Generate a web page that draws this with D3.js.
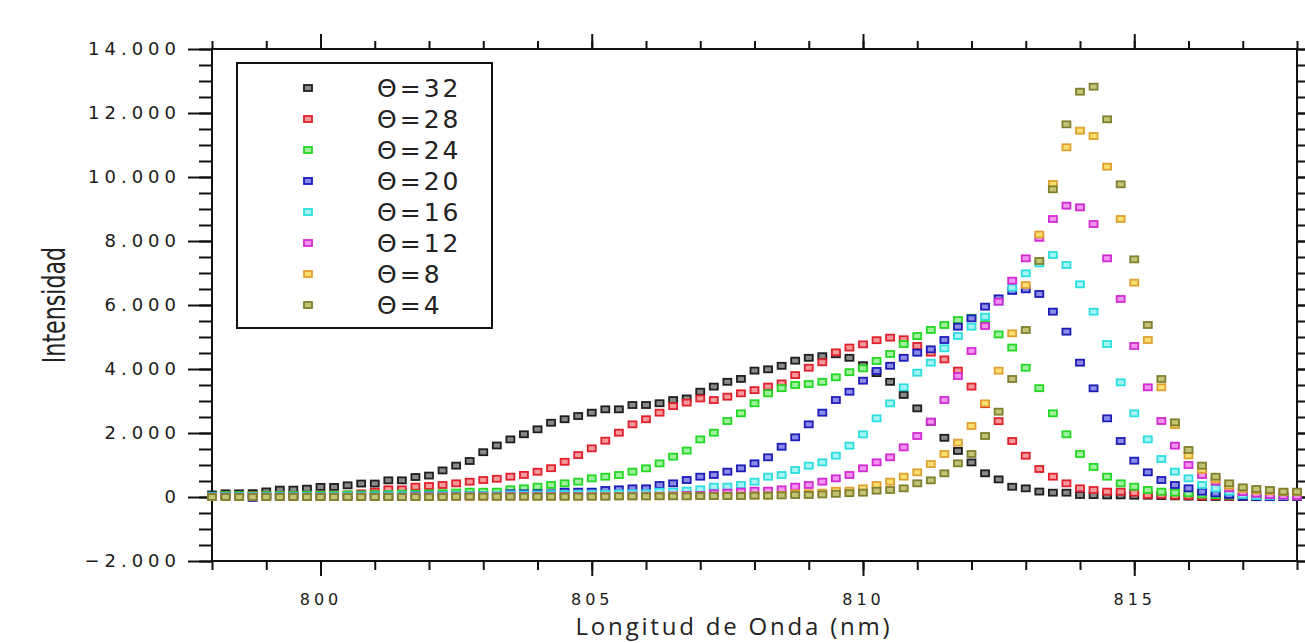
<!DOCTYPE html>
<html>
<head>
<meta charset="utf-8">
<style>
  body { margin: 0; background: #fff; }
  .tick text { font-family: "DejaVu Sans", sans-serif; fill: #1a1a1a; }
  .legend text { font-family: "DejaVu Sans", sans-serif; fill: #222; }
</style>
</head>
<body>
<svg width="1305" height="643"></svg>
<script src="https://cdnjs.cloudflare.com/ajax/libs/d3/7.8.5/d3.min.js"></script>
<script>
// wavelength grid (nm)
var wavelength = [
  798, 798.25, 798.5, 798.75, 799, 799.25, 799.5, 799.75,
  800, 800.25, 800.5, 800.75, 801, 801.25, 801.5, 801.75,
  802, 802.25, 802.5, 802.75, 803, 803.25, 803.5, 803.75,
  804, 804.25, 804.5, 804.75, 805, 805.25, 805.5, 805.75,
  806, 806.25, 806.5, 806.75, 807, 807.25, 807.5, 807.75,
  808, 808.25, 808.5, 808.75, 809, 809.25, 809.5, 809.75,
  810, 810.25, 810.5, 810.75, 811, 811.25, 811.5, 811.75,
  812, 812.25, 812.5, 812.75, 813, 813.25, 813.5, 813.75,
  814, 814.25, 814.5, 814.75, 815, 815.25, 815.5, 815.75,
  816, 816.25, 816.5, 816.75, 817, 817.25, 817.5, 817.75,
  818
];

var theta32 = [
  80, 115, 115, 120, 175, 230, 230, 260,
  315, 315, 365, 420, 420, 520, 520, 625,
  670, 830, 980, 1125, 1400, 1610, 1800, 1960,
  2115, 2320, 2430, 2530, 2635, 2740, 2740, 2875,
  2875, 2930, 3030, 3080, 3290, 3450, 3600, 3690,
  3950, 3990, 4100, 4260, 4350, 4400, 4460, 4350,
  4120, 3870, 3600, 3190, 2770, 2350, 1850, 1440,
  1080, 740, 550, 320, 270, 170, 135, 135,
  63, 60, 50, 50, 40, 40, 30, 20,
  10, 0, 0, 0, 0, 0, 0, 0,
  0
];
var theta28 = [
  30, 60, 60, 60, 60, 60, 60, 60,
  80, 80, 80, 115, 167, 240, 240, 323,
  344, 375, 427, 479, 531, 570, 635, 690,
  790, 900, 1100, 1310, 1520, 1760, 2010, 2270,
  2430, 2635, 2840, 2950, 3080, 3030, 3135, 3240,
  3340, 3450, 3550, 3810, 4040, 4210, 4520, 4670,
  4770, 4900, 4980, 4930, 4720, 4510, 4300, 3950,
  3450, 2900, 2370, 1750, 1290, 875, 635, 427,
  271, 219, 167, 167, 135, 63, 63, 40,
  30, 20, 20, 10, 10, 0, 0, 0,
  0
];
var theta24 = [
  40, 60, 60, 50, 60, 60, 60, 70,
  70, 70, 80, 80, 90, 90, 100, 100,
  110, 120, 140, 167, 167, 167, 240, 271,
  323, 375, 427, 479, 583, 635, 688, 792,
  896, 1050, 1260, 1450, 1800, 2010, 2375, 2615,
  2930, 3240, 3400, 3500, 3530, 3600, 3740, 3900,
  4020, 4250, 4470, 4780, 5030, 5220, 5375, 5530,
  5600, 5400, 5080, 4670, 4040, 3400, 2615, 1960,
  1344, 940, 635, 427, 323, 219, 167, 135,
  115, 80, 60, 40, 30, 30, 20, 20,
  20
];
var theta20 = [
  30, 30, 30, -30, 30, 30, 30, 30,
  30, 30, 30, 40, 40, 40, 40, 50,
  50, 60, 60, 60, 63, 63, 115, 115,
  115, 115, 167, 167, 167, 219, 240, 271,
  271, 375, 427, 531, 635, 688, 792, 896,
  1052, 1240, 1570, 1865, 2270, 2635, 3030, 3290,
  3635, 3940, 4100, 4350, 4510, 4615, 4906, 5323,
  5583, 5948, 6208, 6440, 6490, 6344, 5792, 5167,
  4198, 3396, 2458, 1750, 1135, 771, 531, 375,
  271, 167, 115, 63, 10, 0, 0, 0,
  10
];
var theta16 = [
  30, 30, 30, 30, 30, 30, 30, 30,
  30, 40, 40, 40, 40, 50, 50, 50,
  50, 60, 60, 60, 60, 63, 80, 80,
  80, 90, 90, 100, 100, 100, 110, 115,
  115, 167, 167, 198, 240, 323, 323, 375,
  479, 635, 688, 844, 979, 1083, 1292, 1604,
  1958, 2458, 2927, 3427, 3885, 4198, 4646, 5031,
  5323, 5635, 6100, 6542, 6990, 7300, 7563, 7250,
  6646, 5792, 4781, 3583, 2615, 1802, 1188, 792,
  583, 375, 271, 167, 63, 30, 30, 30,
  30
];
var theta12 = [
  10, 10, 10, 10, 10, 10, 10, 10,
  10, 10, 10, 10, 10, 10, 10, 20,
  20, 20, 20, 20, 20, 20, 30, 30,
  30, 30, 30, 30, 30, 30, 30, 40,
  40, 40, 50, 63, 63, 115, 136, 167,
  198, 198, 240, 323, 375, 479, 583, 688,
  896, 1083, 1240, 1552, 1906, 2354, 3031, 3781,
  4563, 5344, 6104, 6760, 7458, 8100, 8688, 9104,
  9052, 8531, 7458, 6188, 4719, 3427, 2375, 1604,
  1000, 688, 479, 271, 150, 100, 60, 40,
  30
];
var theta8 = [
  0, 0, 0, 0, 0, 0, 0, 0,
  0, 0, 0, 0, 0, 0, 0, 0,
  0, 10, 10, 10, 10, 10, 10, 10,
  10, 10, 10, 10, 20, 20, 20, 20,
  20, 30, 30, 30, 30, 30, 40, 40,
  50, 50, 63, 115, 115, 135, 198, 198,
  271, 375, 479, 635, 771, 1031, 1344, 1698,
  2219, 2927, 3948, 5115, 6625, 8200, 9781, 10928,
  11448, 11281, 10323, 8688, 6698, 4906, 3427, 2250,
  1300, 850, 550, 350, 250, 200, 180, 150,
  150
];
var theta4 = [
  0, 0, 0, 0, 0, 0, 0, 0,
  0, 0, 0, 0, 0, 0, 0, 0,
  0, 0, 10, 10, 10, 10, 10, 10,
  10, 10, 10, 10, 10, 10, 20, 20,
  20, 20, 20, 20, 30, 30, 30, 30,
  40, 40, 50, 63, 63, 80, 100, 120,
  135, 198, 219, 271, 427, 520, 740, 1052,
  1344, 1906, 2667, 3688, 5219, 7375, 9615, 11646,
  12666, 12823, 11802, 9771, 7427, 5375, 3688, 2333,
  1469, 979, 635, 427, 302, 250, 219, 167,
  167
];

var seriesNames = ["\u0398=32", "\u0398=28", "\u0398=24", "\u0398=20", "\u0398=16", "\u0398=12", "\u0398=8", "\u0398=4"];
var seriesValues = [theta32, theta28, theta24, theta20, theta16, theta12, theta8, theta4];
var strokeColors = ["#1e1e1e", "#e0202c", "#22d822", "#1c1cb8", "#2cdede", "#d22ad2", "#e0a030", "#7f7f30"];
var fillColors   = ["#8a8a8a", "#f59a9a", "#a0f0a0", "#8c8ce8", "#a8f4f4", "#f094f0", "#f8e070", "#c4c474"];

var xMajor = [800, 805, 810, 815];
var yMajor = [-2000, 0, 2000, 4000, 6000, 8000, 10000, 12000, 14000];

var svg = d3.select("svg");
var plotLeft = 212, plotRight = 1297, plotTop = 49, plotBottom = 561;

var x = d3.scaleLinear().domain([798, 818]).range([plotLeft, plotRight]);
var y = d3.scaleLinear().domain([-2000, 14000]).range([plotBottom, plotTop]);

var loc = d3.formatLocale({decimal: ",", thousands: ".", grouping: [3], currency: ["", ""], minus: "\u2212"});
var fmt = loc.format(",d");

var xMinor = d3.range(798, 818.01, 1);
var yMinor = d3.range(-2000, 14001, 500);

// minor ticks
svg.append("g").attr("transform", "translate(0," + plotBottom + ")")
  .call(d3.axisBottom(x).tickValues(xMinor).tickSize(9).tickFormat(""));
svg.append("g").attr("transform", "translate(0," + plotTop + ")")
  .call(d3.axisTop(x).tickValues(xMinor).tickSize(8).tickFormat(""));
svg.append("g").attr("transform", "translate(" + plotLeft + ",0)")
  .call(d3.axisLeft(y).tickValues(yMinor).tickSize(13).tickFormat(""));
svg.append("g").attr("transform", "translate(" + plotRight + ",0)")
  .call(d3.axisRight(y).tickValues(yMinor).tickSize(13).tickFormat(""));

// major ticks
var xAxis = svg.append("g").attr("transform", "translate(0," + plotBottom + ")")
  .call(d3.axisBottom(x).tickValues(xMajor).tickSize(15).tickPadding(18).tickFormat(d3.format("d")));
svg.append("g").attr("transform", "translate(0," + plotTop + ")")
  .call(d3.axisTop(x).tickValues(xMajor).tickSize(15).tickFormat(""));
var yAxis = svg.append("g").attr("transform", "translate(" + plotLeft + ",0)")
  .call(d3.axisLeft(y).tickValues(yMajor).tickSize(24).tickPadding(7).tickFormat(fmt));
svg.append("g").attr("transform", "translate(" + plotRight + ",0)")
  .call(d3.axisRight(y).tickValues(yMajor).tickSize(24).tickFormat(""));

svg.selectAll(".domain").remove();
svg.selectAll(".tick line").attr("stroke", "#111").attr("stroke-width", 2);
xAxis.selectAll("text").style("font-size", "16px").style("letter-spacing", "4px");
yAxis.selectAll("text").style("font-size", "18px").style("letter-spacing", "5px");

// frame
svg.append("rect")
  .attr("x", plotLeft).attr("y", plotTop)
  .attr("width", plotRight - plotLeft).attr("height", plotBottom - plotTop)
  .attr("fill", "none").attr("stroke", "#111").attr("stroke-width", 2);

// data markers
var plot = svg.append("g");
seriesValues.forEach(function(vals, s) {
  plot.append("g").selectAll("rect")
    .data(vals)
    .join("rect")
    .attr("x", function(d, i) { return x(wavelength[i]) - 4; })
    .attr("y", function(d) { return y(d) - 3; })
    .attr("width", 8).attr("height", 6)
    .attr("fill", fillColors[s])
    .attr("stroke", strokeColors[s])
    .attr("stroke-width", 1.8);
});

// axis titles
svg.append("text")
  .attr("x", 734).attr("y", 635)
  .attr("text-anchor", "middle")
  .style("font-family", "'Open Sans', sans-serif")
  .style("font-size", "24px")
  .style("letter-spacing", "2.8px")
  .style("fill", "#222")
  .text("Longitud de Onda (nm)");

svg.append("text")
  .attr("transform", "translate(65,305) rotate(-90) scale(0.77,1)")
  .attr("text-anchor", "middle")
  .style("font-family", "'DejaVu Sans Condensed', 'DejaVu Sans', sans-serif")
  .style("font-stretch", "condensed")
  .style("font-size", "32px")
  .style("fill", "#222")
  .text("Intensidad");

// legend
var legend = svg.append("g").attr("class", "legend");
legend.append("rect")
  .attr("x", 237).attr("y", 63).attr("width", 255).attr("height", 265)
  .attr("fill", "#fff").attr("stroke", "#111").attr("stroke-width", 2);
var items = legend.selectAll("g.item")
  .data(seriesNames)
  .join("g").attr("class", "item")
  .attr("transform", function(d, i) { return "translate(0," + (88 + i * 31) + ")"; });
items.append("rect")
  .attr("x", 304).attr("y", -3).attr("width", 8).attr("height", 6)
  .attr("fill", function(d, i) { return fillColors[i]; })
  .attr("stroke", function(d, i) { return strokeColors[i]; })
  .attr("stroke-width", 1.8);
items.append("text")
  .attr("x", 377).attr("y", 9)
  .style("font-size", "25px")
  .style("letter-spacing", "3px")
  .text(function(d) { return d; });
</script>
</body>
</html>
